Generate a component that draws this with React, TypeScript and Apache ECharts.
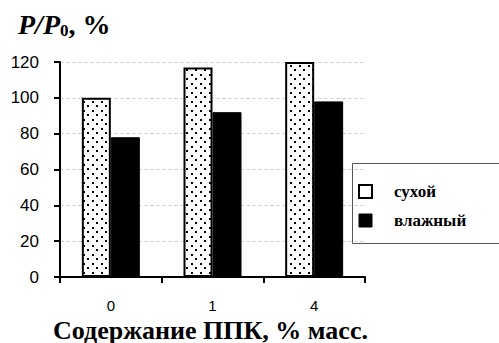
import React, { useEffect, useRef } from "react";
import * as echarts from "echarts";

const categories = ["0", "1", "4"];
const dryValues = [100, 117, 120];
const wetValues = [78, 92, 98];
const seriesNames = ["сухой", "влажный"];
const yMin = 0;
const yMax = 120;
const yInterval = 20;

function makeDotPattern(): HTMLCanvasElement {
  const c = document.createElement("canvas");
  c.width = 9;
  c.height = 9;
  const ctx = c.getContext("2d")!;
  ctx.fillStyle = "#fff";
  ctx.fillRect(0, 0, 9, 9);
  ctx.fillStyle = "#000";
  ctx.fillRect(2, 2, 2, 2);
  ctx.fillRect(6, 6, 2, 2);
  return c;
}

export default function App() {
  const ref = useRef<HTMLDivElement>(null);
  useEffect(() => {
    if (!ref.current) return;
    const chart = echarts.init(ref.current, undefined, { renderer: "svg" });
    const pattern = makeDotPattern();
    const serif = "'Liberation Serif', 'Times New Roman', serif";
    const sans = "'Liberation Sans', Arial, sans-serif";
    chart.setOption({
      animation: false,
      backgroundColor: "#fff",
      grid: { left: 60, right: 134, top: 62, bottom: 66, containLabel: false },
      title: {
        left: 13,
        top: 4,
        text: "{i|P/P}{s|0}{b|, %}",
        textStyle: {
          rich: {
            i: { fontFamily: serif, fontWeight: "bold", fontStyle: "italic", fontSize: 28, color: "#000" },
            s: { fontFamily: serif, fontWeight: "bold", fontSize: 17, color: "#000", verticalAlign: "bottom", padding: [13, 0, 0, 0] },
            b: { fontFamily: serif, fontWeight: "bold", fontSize: 28, color: "#000" },
          },
        },
      },
      legend: {
        orient: "vertical",
        left: 353,
        top: 178,
        itemWidth: 13,
        itemHeight: 13,
        itemGap: 12,
        icon: "rect",
        textStyle: { fontFamily: serif, fontWeight: "bold", fontSize: 17, color: "#000", padding: [0, 0, 0, 17] },
        data: [
          { name: seriesNames[0], itemStyle: { color: "#fff", borderColor: "#000", borderWidth: 2 } },
          { name: seriesNames[1], itemStyle: { color: "#000", borderColor: "#000", borderWidth: 1 } },
        ],
      },
      graphic: [
        {
          type: "rect",
          left: 352,
          top: 163,
          shape: { width: 160, height: 80 },
          style: { fill: "transparent", stroke: "#555", lineWidth: 1 },
          z: -1,
        },
        {
          type: "text",
          left: 53,
          top: 317,
          style: {
            text: "Содержание ППК, % масс.",
            font: "bold 26px " + serif,
            fill: "#000",
          },
        },
      ],
      xAxis: {
        type: "category",
        data: categories,
        boundaryGap: true,
        axisLine: { lineStyle: { color: "#000", width: 2 } },
        axisTick: { show: true, length: 6, lineStyle: { color: "#000", width: 2 } },
        axisLabel: { fontFamily: sans, fontSize: 15, color: "#000", margin: 21, lineHeight: 15 },
        splitLine: { show: false },
      },
      yAxis: {
        type: "value",
        min: yMin,
        max: yMax,
        interval: yInterval,
        axisLine: { show: true, lineStyle: { color: "#000", width: 2 } },
        axisTick: { show: true, length: 6, lineStyle: { color: "#000", width: 2 } },
        axisLabel: { fontFamily: sans, fontSize: 17, color: "#000", margin: 21 },
        splitLine: { show: true, lineStyle: { color: "#d8d8d8", width: 1, type: "dashed" } },
      },
      series: [
        {
          name: seriesNames[0],
          type: "bar",
          data: dryValues,
          barWidth: 29,
          barGap: "0%",
          clip: false,
          itemStyle: {
            color: { image: pattern, repeat: "repeat" },
            borderColor: "#000",
            borderWidth: 2,
          },
        },
        {
          name: seriesNames[1],
          type: "bar",
          data: wetValues,
          barWidth: 29,
          barGap: "0%",
          clip: false,
          itemStyle: { color: "#000", borderColor: "#000", borderWidth: 1 },
        },
      ],
    });
    return () => chart.dispose();
  }, []);
  return <div ref={ref} style={{ width: 499, height: 343, position: "absolute", left: 0, top: 0 }} />;
}
